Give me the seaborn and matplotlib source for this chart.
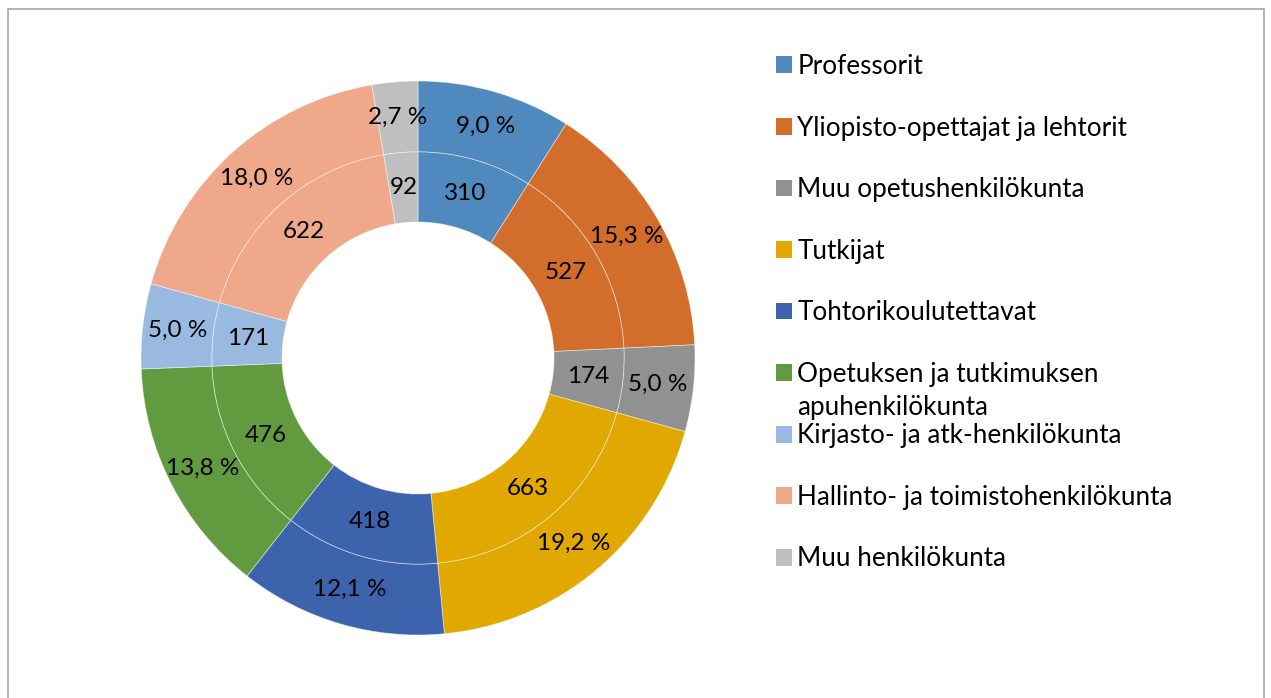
import matplotlib
matplotlib.use('Agg')
import matplotlib.pyplot as plt
import seaborn as sns
from matplotlib.patches import Patch, Rectangle

sns.set_theme(style='white')
plt.rcParams['font.family'] = ['Lato', 'DejaVu Sans']
plt.rcParams['text.color'] = 'black'

CATEGORIES = ['Professorit', 'Yliopisto-opettajat ja lehtorit', 'Muu opetushenkilökunta',
              'Tutkijat', 'Tohtorikoulutettavat', 'Opetuksen ja tutkimuksen',
              'Kirjasto- ja atk-henkilökunta', 'Hallinto- ja toimistohenkilökunta',
              'Muu henkilökunta']
COUNTS = [310, 527, 174, 663, 418, 476, 171, 622, 92]
COLORS = ['#4F89BE', '#D26D2B', '#919191', '#E0A800', '#3D63AC',
          '#629B3F', '#98BAE1', '#F0A88A', '#BFBFBF']
total = sum(COUNTS)

fig = plt.figure(figsize=(12.71, 6.98), dpi=100)
W, H = 1271, 698
cx, cy, r = 418, 358, 277
ax = fig.add_axes([(cx - r) / W, (H - cy - r) / H, 2 * r / W, 2 * r / H])

edge = dict(edgecolor=(1, 1, 1, 0.5), linewidth=0.6)
FS = 17.5
LFS = 18.8
txt = dict(fontsize=FS, color='black')

# outer ring: percentages
ax.pie(COUNTS, radius=1.0, colors=COLORS, startangle=90, counterclock=False,
       wedgeprops=dict(width=0.256, **edge),
       autopct=lambda p: f'{p:.1f} %'.replace('.', ','), pctdistance=0.872,
       textprops=txt)
# inner ring: counts
ax.pie(COUNTS, radius=0.744, colors=COLORS, startangle=90, counterclock=False,
       wedgeprops=dict(width=0.253, **edge),
       autopct=lambda p: f'{round(p * total / 100)}', pctdistance=0.829,
       textprops=txt)
ax.set_xlim(-1, 1)
ax.set_ylim(-1, 1)
ax.set_aspect('equal')
ax.axis('off')

handles = [Patch(facecolor=c, edgecolor='none') for c in COLORS]
leg = fig.legend(handles, CATEGORIES, loc='upper left', bbox_to_anchor=(776 / W, 1 - 54 / H),
                 frameon=False, fontsize=LFS, labelspacing=1.40, handlelength=0.61,
                 handleheight=0.61, handletextpad=0.2, borderaxespad=0, borderpad=0)

# second line of the wrapped legend entry
fig.canvas.draw()
t = leg.get_texts()[5]
bb = t.get_window_extent()
fig.text(bb.x0 / W, (bb.y0 - 33) / H, 'apuhenkilökunta', fontsize=LFS, va='bottom')

fig.patches.append(Rectangle((7.5 / W, -0.05), 1256.5 / W, 1.05 - 9.5 / H,
                             transform=fig.transFigure, fill=False,
                             edgecolor='#A6A6A6', linewidth=1.2))

fig.savefig('out.png', dpi=100)
